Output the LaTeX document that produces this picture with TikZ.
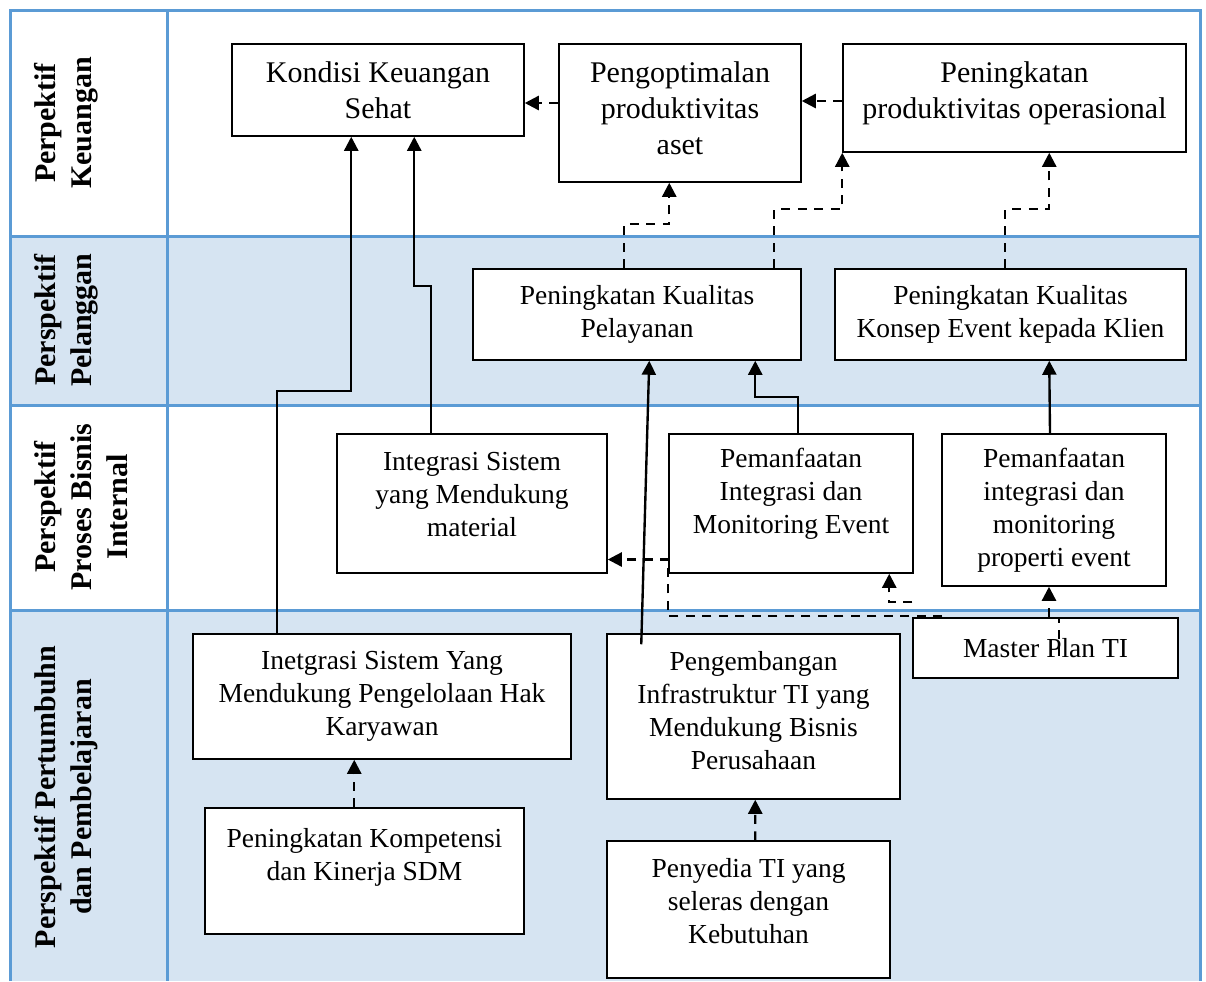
\documentclass[tikz,border=0pt]{standalone}
\usepackage{fontspec}
\setmainfont{Liberation Serif}
\usetikzlibrary{arrows.meta,calc,positioning}
\definecolor{gridblue}{RGB}{91,155,213}
\definecolor{rowblue}{RGB}{214,228,242}

\begin{document}
\begin{tikzpicture}[
    x=0.4pt, y=-0.4pt,
    box/.style={rectangle, draw=black, line width=0.6pt, fill=white, align=center, inner sep=2pt, font=\fontsize{11}{13.2}\selectfont},
    topbox/.style={box, font=\fontsize{12}{14.4}\selectfont},
    lane/.style={rotate=90, anchor=north, align=center, font=\fontsize{12}{14.4}\selectfont\bfseries},
    grid/.style={gridblue, line width=1.2pt},
    arrow/.style={-{Triangle[length=5.6pt, width=5.6pt]}, line width=0.95pt},
    darrow/.style={arrow, dash pattern=on 3.6pt off 3pt}
]
\useasboundingbox (0,0) rectangle (1206,981);

% Rows of the scorecard
\fill[rowblue] (10,236) rectangle (1200,405);
\fill[rowblue] (10,610) rectangle (1200,981);
\draw[grid] (10,981) -- (10,10) -- (1200,10) -- (1200,981);
\draw[grid] (167,10) -- (167,981);
\foreach \y in {236,405,610} \draw[grid] (10,\y) -- (1200,\y);

% Perspective labels
\node[lane] (lkeu) at (26,123) {Perpektif\\Keuangan};
\node[lane] (lpel) at (26,320) {Perspektif\\Pelanggan};
\node[lane] (lpro) at (26,507) {Perspektif\\Proses Bisnis\\Internal};
\node[lane] (lper) at (26,797) {Perspektif Pertumbuhn\\dan Pembelajaran};

% Keuangan
\node[topbox, minimum width=116.8pt, minimum height=36.8pt] (kondisi) at (378,90) {Kondisi Keuangan\\Sehat};
\node[topbox, minimum width=96.8pt, minimum height=55.2pt] (optimal) at (680,113) {Pengoptimalan\\produktivitas\\aset\\[-10.4pt]\mbox{}};
\node[topbox, minimum width=137.2pt, minimum height=43.2pt] (opsprod) at (1014.5,98) {Peningkatan\\produktivitas operasional\\[-7.8pt]\mbox{}};

% Pelanggan
\node[box, minimum width=131.2pt, minimum height=36.4pt] (layanan) at (637,314.5) {Peningkatan Kualitas\\Pelayanan};
\node[box, minimum width=140.4pt, minimum height=36.4pt] (konsep) at (1010.5,314.5) {Peningkatan Kualitas\\Konsep Event kepada Klien};

% Proses bisnis internal
\node[box, minimum width=108pt, minimum height=55.6pt] (integmat) at (472,503.5) {Integrasi Sistem\\yang Mendukung\\material\\[-5.6pt]\mbox{}};
\node[box, minimum width=97.6pt, minimum height=55.6pt] (monitor) at (791,503.5) {Pemanfaatan\\Integrasi dan\\Monitoring Event\\[-3.3pt]\mbox{}};
\node[box, minimum width=89.6pt, minimum height=60.8pt] (properti) at (1054,510) {Pemanfaatan\\integrasi dan\\monitoring\\properti event};

% Pertumbuhan dan pembelajaran
\node[box, minimum width=106pt, minimum height=24pt] (master) at (1045.5,648) {Master Plan TI};
\node[box, minimum width=151.2pt, minimum height=50pt] (hak) at (382,696.5) {Inetgrasi Sistem Yang\\Mendukung Pengelolaan Hak\\Karyawan};
\node[box, minimum width=117.2pt, minimum height=66pt] (infra) at (753.5,716.5) {Pengembangan\\Infrastruktur TI yang\\Mendukung Bisnis\\Perusahaan\\[-8.4pt]\mbox{}};
\node[box, minimum width=127.6pt, minimum height=50.4pt] (sdm) at (364.5,871) {Peningkatan Kompetensi\\dan Kinerja SDM\\~};
\node[box, minimum width=113.2pt, minimum height=54.8pt] (penyedia) at (748.5,909.5) {Penyedia TI yang\\seleras dengan\\Kebutuhan\\[-6pt]\mbox{}};

% Solid links
\draw[arrow] ($(hak.north west)+(85,0)$) -- ++(0,-242) -| ($(kondisi.south west)+(120,0)$);
\draw[arrow] ($(integmat.north west)+(95,0)$) -- ++(0,-147) -| ($(kondisi.south west)+(183,0)$);
\draw[arrow] ($(infra.north west)+(35,11)$) -- ($(layanan.south west)+(177,0)$);
\draw[arrow] ($(monitor.north west)+(130,0)$) -- ++(0,-36) -| ($(layanan.south west)+(283,0)$);
\draw[arrow] ($(properti.north)+(-4,0)$) -- ($(konsep.south west)+(215,0)$);

% Dashed links
\draw[darrow] ($(optimal.west)+(0,-10)$) -- ($(kondisi.east)+(0,13)$);
\draw[darrow] ($(opsprod.west)+(0,3)$) -- ($(optimal.east)+(0,-12)$);
\draw[darrow] ($(layanan.north west)+(152,0)$) -- ++(0,-44) -| ($(optimal.south west)+(111,0)$);
\draw[darrow] ($(layanan.north west)+(302,0)$) -- ++(0,-59) -| (opsprod.south west);
\draw[darrow] ($(konsep.north west)+(171,0)$) -- ++(0,-59) -| ($(opsprod.south west)+(207,0)$);
\draw[darrow] ($(sdm.north west)+(150,0)$) -- (hak.south -| {$(sdm.north west)+(150,0)$});
\draw[darrow] ($(penyedia.north west)+(149,0)$) -- ($(infra.south west)+(149,0)$);

% Master plan links
\draw[darrow] ($(master.south west)+(147,-23)$) -- ++(0,-38) -| ($(properti.south)+(-5,0)$);
\draw[darrow] ($(master.north west)+(30,-1)$) -- ++(-274,0) |- ($(integmat.east)+(0,56)$);
\draw[darrow] ($(master.north west)+(0,-15)$) -| ($(monitor.south west)+(221,0)$);

\end{tikzpicture}
\end{document}
